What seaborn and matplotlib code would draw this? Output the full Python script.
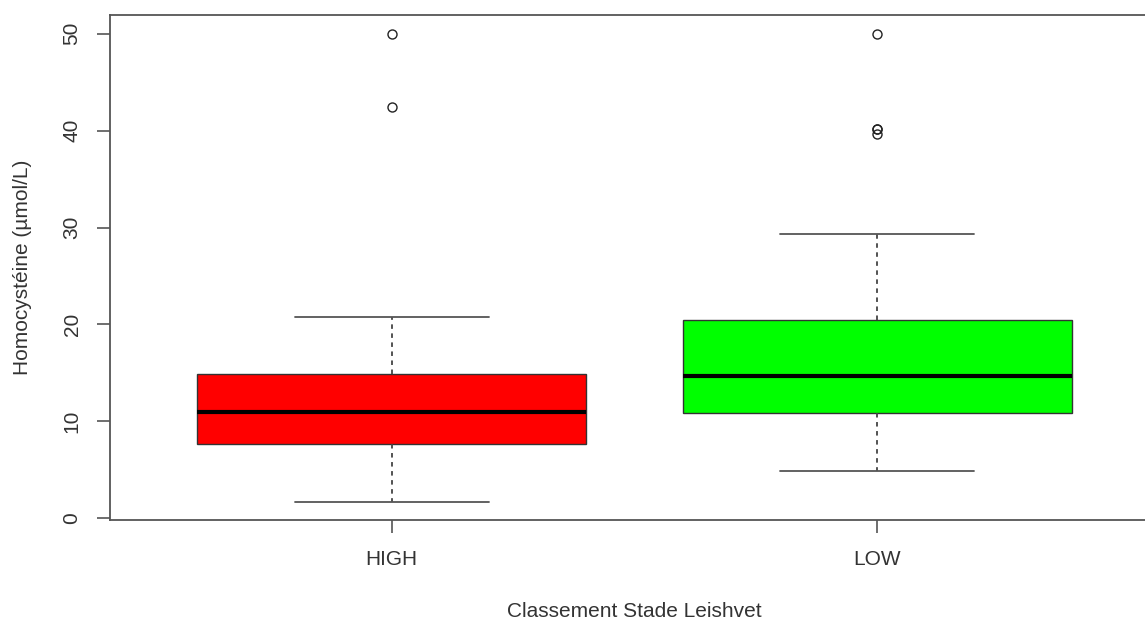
import numpy as np
import pandas as pd
import seaborn as sns
import matplotlib
matplotlib.use("Agg")
import matplotlib.pyplot as plt

# Categories and read-off values (samples reproducing the boxplot summaries)
categories = ["HIGH", "LOW"]
high_values = [1.72, 4.0, 6.0, 7.63, 8.5, 9.8, 10.93, 12.0, 13.5, 14.9, 20.75, 42.4, 50.0]
low_values = [4.88, 6.0, 7.5, 8.5, 10.0, 10.9, 11.5, 12.0, 13.0, 14.0, 14.7,
              15.5, 16.5, 18.0, 19.5, 20.5, 29.35, 39.6, 40.2, 40.2, 50.0]
box_colors = ["#FF0000", "#00FF00"]
y_ticks = [0, 10, 20, 30, 40, 50]
x_label = "Classement Stade Leishvet"
y_label = "Homocystéine (µmol/L)"

df = pd.DataFrame({
    "group": ["HIGH"] * len(high_values) + ["LOW"] * len(low_values),
    "value": high_values + low_values,
})

sns.set_style("white")
plt.rcParams["font.family"] = ["Liberation Sans", "DejaVu Sans"]

fig = plt.figure(figsize=(11.45, 6.23), dpi=100)
ax = fig.add_axes([110 / 1145, 103 / 623, 1049 / 1145, 505 / 623])

sns.boxplot(
    data=df, x="group", y="value", hue="group", order=categories,
    palette=dict(zip(categories, box_colors)), legend=False, saturation=1,
    width=0.8, linecolor="black", linewidth=1.0, ax=ax,
    whiskerprops=dict(linestyle=(0, (2.5, 2.5)), color="#444444", linewidth=1.3),
    capprops=dict(color="#555555", linewidth=1.3),
    medianprops=dict(color="black", linewidth=3),
    boxprops=dict(edgecolor="#333333", linewidth=1.0),
    flierprops=dict(marker="o", markerfacecolor="none", markeredgecolor="#222222",
                    markersize=6.5, markeredgewidth=1.0),
)

ax.set_xlim(-0.58, 1.58)
ax.set_ylim(-0.18, 51.93)
ax.set_yticks(y_ticks)
ax.set_yticklabels([str(t) for t in y_ticks], rotation=90, va="center")
ax.set_xlabel(x_label, fontsize=15, color="#333333", labelpad=24)
ax.set_ylabel(y_label, fontsize=15, color="#333333", labelpad=22)
ax.tick_params(axis="both", which="both", direction="out", length=9.5, width=1.2,
               color="#555555", labelsize=15, labelcolor="#333333",
               left=True, bottom=True)
ax.tick_params(axis="x", pad=12)
ax.tick_params(axis="y", pad=11)
for s in ax.spines.values():
    s.set_color("#555555")
    s.set_linewidth(1.3)

fig.savefig("out.png", dpi=100)
